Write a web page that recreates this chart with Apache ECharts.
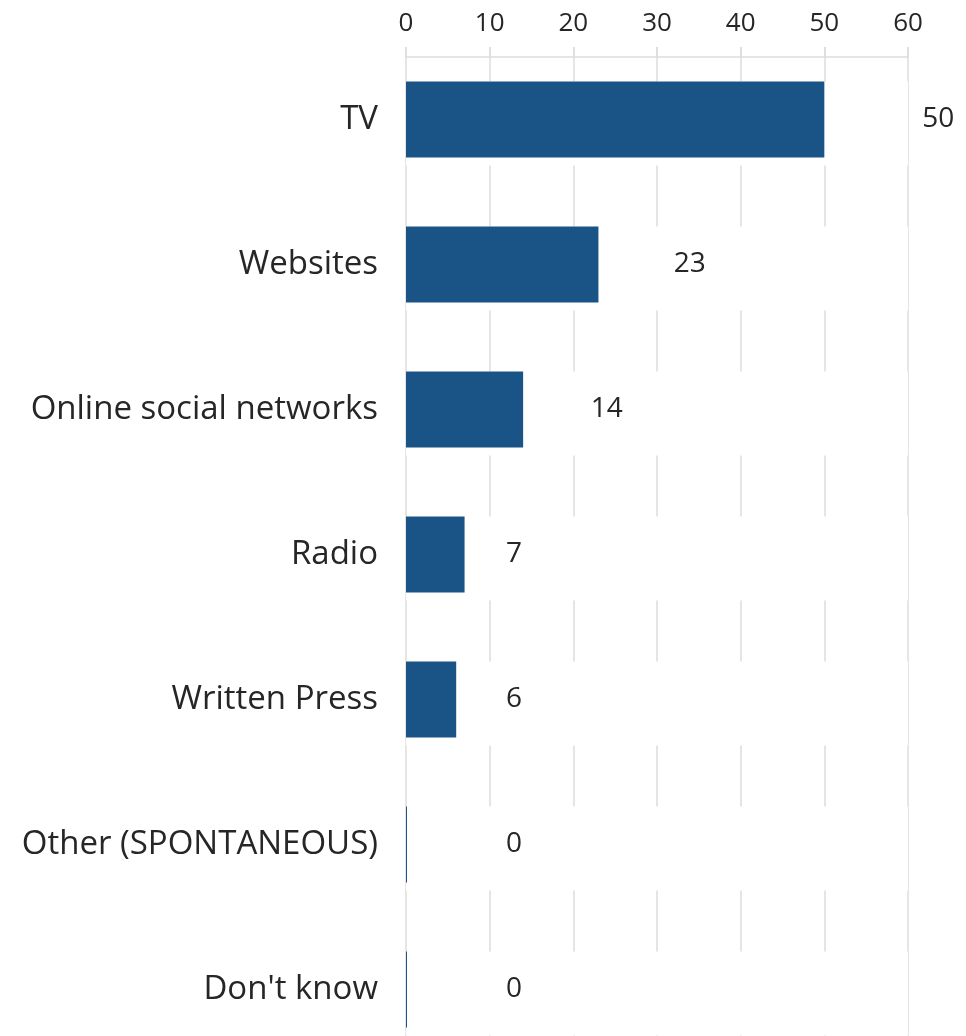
<!DOCTYPE html>
<html lang="en">
<head>
<meta charset="utf-8">
<script src="https://cdn.jsdelivr.net/npm/echarts@6/dist/echarts.min.js"></script>
<style>
  html, body { margin: 0; padding: 0; background: #fff; }
  #chart { width: 966px; height: 1036px; }
</style>
</head>
<body>
<div id="chart"></div>
<script>
  var categories = ['TV', 'Websites', 'Online social networks', 'Radio', 'Written Press', 'Other (SPONTANEOUS)', "Don't know"];
  var shares = [50, 23, 14, 7, 6, 0, 0];
  var tickMax = 60;

  var font = '"Open Sans", "Noto Sans", sans-serif';
  var textColor = '#262626';
  var lineColor = '#dddddd';

  var chart = echarts.init(document.getElementById('chart'));
  chart.setOption({
    animation: false,
    grid: {
      left: 406,
      right: 58,
      top: 47,
      height: 1015,
      outerBoundsMode: 'none',
      containLabel: false
    },
    xAxis: {
      type: 'value',
      position: 'top',
      min: 0,
      max: tickMax,
      interval: 10,
      offset: -10,
      axisLine: { show: true, lineStyle: { color: lineColor, width: 1.5 } },
      axisTick: { show: true, length: 10, lineStyle: { color: lineColor, width: 1.5 } },
      splitLine: { show: true, lineStyle: { color: lineColor, width: 1.5 } },
      axisLabel: { color: textColor, fontFamily: font, fontSize: 26, margin: 20 }
    },
    yAxis: {
      type: 'category',
      inverse: true,
      data: categories,
      axisLine: { show: false },
      axisTick: { show: false },
      axisLabel: { color: textColor, fontFamily: font, fontSize: 33, margin: 28 }
    },
    series: [{
      // white band that interrupts the grid lines around each bar
      type: 'bar',
      data: categories.map(function () { return tickMax; }),
      barWidth: 84,
      itemStyle: { color: '#ffffff' },
      silent: true
    }, {
      type: 'bar',
      data: shares,
      barWidth: 76,
      barGap: '-100%',
      barMinHeight: 1,
      itemStyle: { color: '#1a5385' },
      label: {
        show: true,
        position: 'right',
        color: textColor,
        fontFamily: font,
        fontSize: 28
      },
      labelLayout: function (p) {
        var len = p.rect.width;
        var cx = p.rect.x + (len < 70 ? 108 : 1.1 * len + 72);
        return { x: cx, y: p.rect.y + p.rect.height / 2, align: 'center', verticalAlign: 'middle' };
      }
    }]
  });
</script>
</body>
</html>
